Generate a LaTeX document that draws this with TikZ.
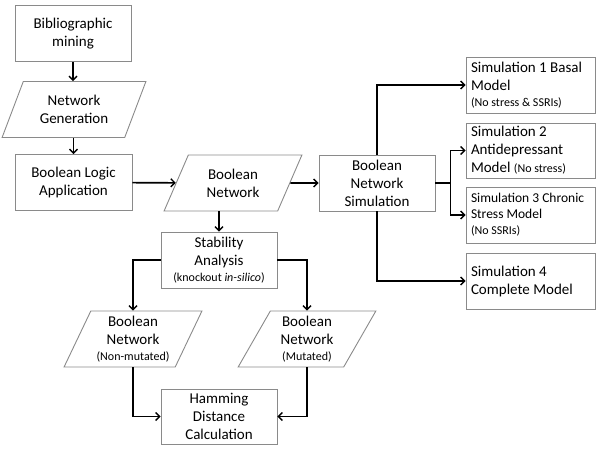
\documentclass[tikz,border=0pt]{standalone}
\usepackage{fontspec}
\setmainfont{Carlito}
\usetikzlibrary{shapes.geometric,arrows.meta}
\definecolor{edgegray}{HTML}{8A8A8A}
\newcommand{\sm}[1]{{\fontsize{12}{14}\selectfont #1}}
\tikzset{
  base/.style={draw=edgegray, line width=0.9pt, inner sep=0pt, align=center,
    font=\fontsize{15}{18}\selectfont},
  box/.style={base, rectangle, minimum width=#1, minimum height=56pt},
  box/.default=116pt,
  simbox/.style={base, rectangle, minimum width=129pt, minimum height=56pt,
    text width=119pt, align=flush left},
  para/.style={base, trapezium, trapezium left angle=63.4, trapezium right angle=116.6,
    trapezium stretches=true, minimum width=#1, minimum height=56pt},
  para/.default=138pt,
  arr/.style={line width=1.6pt, -{Straight Barb[length=4pt,width=8pt,line width=1.4pt]}},
  conn/.style={line width=1.6pt}
}
\begin{document}
\begin{tikzpicture}[x=1pt,y=-1pt]
\useasboundingbox (0,0) rectangle (600,453);
\node[box] (bib) at (73,33.5) {Bibliographic\\mining};
\node[para=144pt] (gen) at (74,109.5) {Network\\Generation};
\node[box=117pt] (logic) at (73.5,182.5) {Boolean Logic\\Application};
\node[para] (bn) at (233,183) {Boolean\\Network};
\node[box] (bns) at (377,183) {Boolean\\Network\\Simulation};
\node[simbox] (s1) at (530.5,85) {Simulation 1 Basal\\Model\\[-2pt]\sm{(No stress \& SSRIs)}};
\node[simbox, minimum height=55pt] (s2) at (530.5,150.5) {Simulation 2\\Antidepressant\\Model \sm{(No stress)}};
\node[simbox, font=\fontsize{13.5}{16}\selectfont] (s3) at (530.5,215) {Simulation 3 Chronic\\Stress Model\\\sm{(No SSRIs)}};
\node[simbox] (s4) at (530.5,281) {Simulation 4\\Complete Model};
\node[box] (stab) at (219,260) {Stability\\Analysis\\[-2pt]\sm{(knockout \textit{in-silico})}};
\node[para] (bnn) at (133,339) {Boolean\\Network\\[-2pt]\sm{(Non-mutated)}};
\node[para] (bnm) at (307,339) {Boolean\\Network\\[-2pt]\sm{(Mutated)}};
\node[box, minimum height=55pt] (ham) at (219,416.5) {Hamming\\Distance\\Calculation};

\draw[arr] (bib) -- (gen.north -| bib.south);
\draw[arr] (gen.south -| logic.north) -- (logic);
\draw[arr] (logic) -- (bn);
\draw[arr] (bn) -- (bns);
\draw[arr] (bn.south -| stab.north) -- (stab);
\draw[arr] (bns.north) |- (s1.west);
\draw[conn] (bns.east) -- ++(15,0) coordinate (j);
\draw[arr] (j) |- (s2.west);
\draw[arr] (j) |- (s3.west);
\draw[arr] (bns.south) |- (s4.west);
\draw[arr] (stab.west) -| (bnn.north);
\draw[arr] (stab.east) -| (bnm.north);
\draw[arr] (bnn.south) |- (ham.west);
\draw[arr] (bnm.south) |- (ham.east);
\end{tikzpicture}
\end{document}
